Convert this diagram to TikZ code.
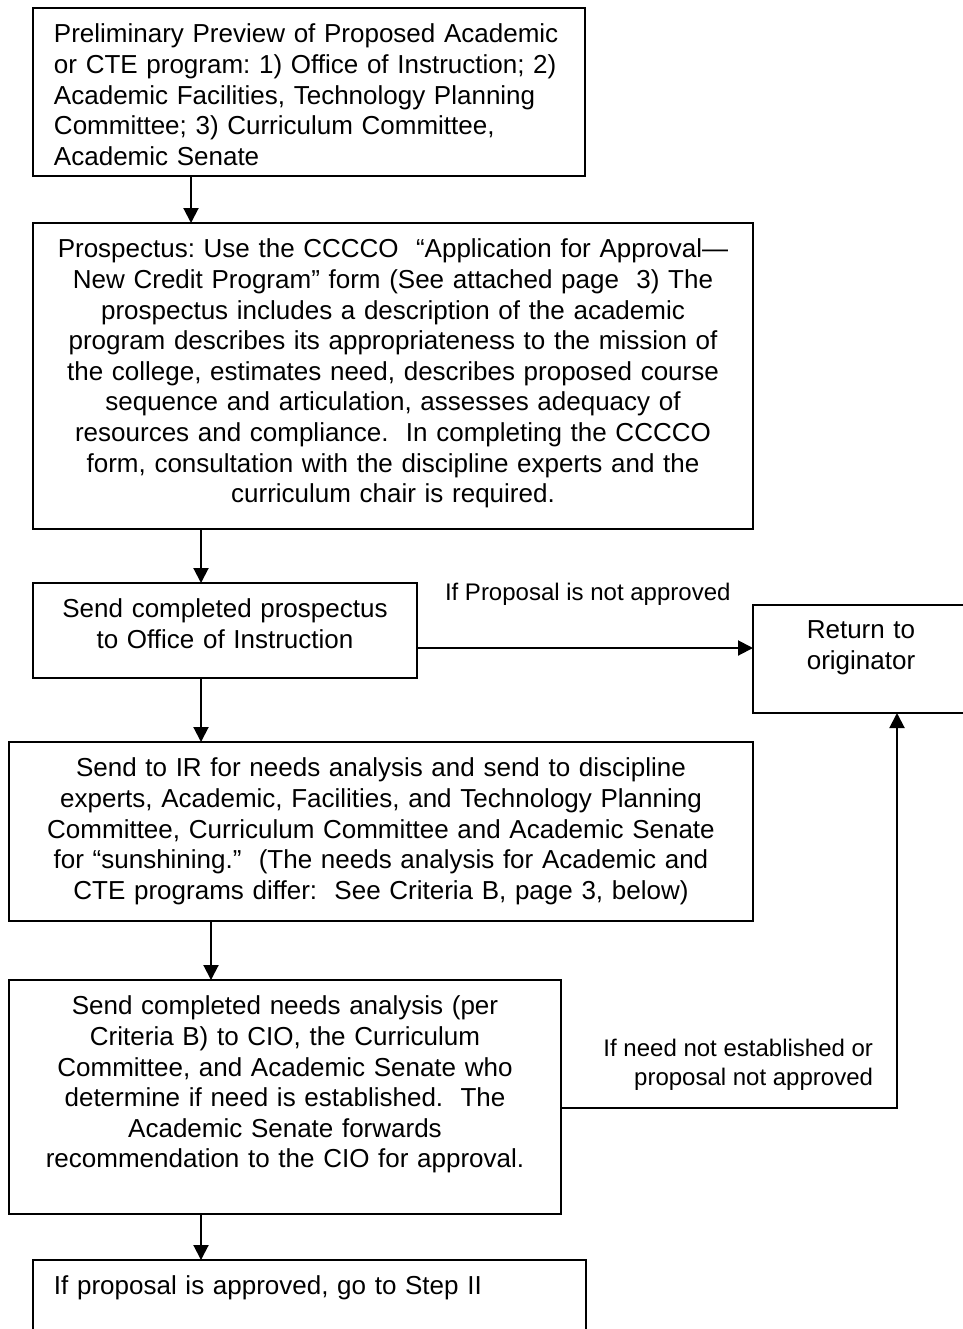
\documentclass[tikz,border=0pt]{standalone}
\usepackage{fontspec}
\setmainfont{Liberation Sans}
\usetikzlibrary{positioning,arrows.meta}

\begin{document}
\frenchspacing
\begin{tikzpicture}[x=0.5pt, y=-0.5pt]
        \tikzstyle{frame} = [rectangle, draw, line width=1pt, anchor=north west, inner sep=0pt, outer sep=0pt]
        \tikzstyle{txt} = [inner sep=0pt, outer sep=0pt, font=\fontsize{13}{15.3}\selectfont]
        \tikzstyle{lbl} = [inner sep=0pt, outer sep=0pt, font=\fontsize{12}{14.6}\selectfont]
        \tikzstyle{line} = [draw, line width=1pt, -{Triangle[width=7.5pt,length=7.5pt]}]
        \useasboundingbox (0,0) rectangle (963,1329);
        % boxes
        \node [frame, minimum width=276pt, minimum height=84pt] (prelim) at (33,8) {};
        \node [frame, minimum width=360pt, minimum height=153pt, below right=23.5pt and 0pt of prelim.south west] (prosp) {};
        \node [frame, minimum width=192pt, minimum height=47.5pt, below right=27pt and 0pt of prosp.south west] (sendoi) {};
        \node [frame, minimum width=108pt, minimum height=54pt, below right=11pt and 168pt of sendoi.north east] (ret) {};
        \node [frame, minimum width=372pt, minimum height=89.5pt, below right=32pt and -12pt of sendoi.south west] (needs) {};
        \node [frame, minimum width=276pt, minimum height=117pt, below right=29.5pt and 0pt of needs.south west] (senate) {};
        \node [frame, minimum width=276.5pt, minimum height=70pt, below right=23pt and 12pt of senate.south west] (stepii) {};
        % texts
        \node [txt, text width=265pt, align=left, below right=8pt and 10.5pt of prelim.north west] (prelimtxt)
            {Preliminary Preview of Proposed Academic\\
             or CTE program: 1) Office of Instruction; 2)\\
             Academic Facilities, Technology Planning\\
             Committee; 3) Curriculum Committee,\\
             Academic Senate};
        \node [txt, text width=360pt, align=center, below=8pt of prosp.north] (prosptxt)
            {Prospectus: Use the CCCCO~ “Application for Approval—\\
             New Credit Program” form (See attached page~ 3) The\\
             prospectus includes a description of the academic\\
             program describes its appropriateness to the mission of\\
             the college, estimates need, describes proposed course\\
             sequence and articulation, assesses adequacy of\\
             resources and compliance.~ In completing the CCCCO\\
             form, consultation with the discipline experts and the\\
             curriculum chair is required.};
        \node [txt, text width=192pt, align=center, below=8pt of sendoi.north] (sendoitxt)
            {Send completed prospectus\\ to Office of Instruction};
        \node [txt, text width=108pt, align=center, below=8pt of ret.north] (rettxt)
            {Return to\\ originator};
        \node [txt, text width=372pt, align=center, below=8pt of needs.north] (needstxt)
            {Send to IR for needs analysis and send to discipline\\
             experts, Academic, Facilities, and Technology Planning\\
             Committee, Curriculum Committee and Academic Senate\\
             for “sunshining.”~ (The needs analysis for Academic and\\
             CTE programs differ:~ See Criteria B, page 3, below)};
        \node [txt, text width=276pt, align=center, below=8pt of senate.north] (senatetxt)
            {Send completed needs analysis (per\\
             Criteria B) to CIO, the Curriculum\\
             Committee, and Academic Senate who\\
             determine if need is established.~ The\\
             Academic Senate forwards\\
             recommendation to the CIO for approval.};
        \node [txt, text width=265pt, align=left, below right=8pt and 10.5pt of stepii.north west] (stepiitxt)
            {If proposal is approved, go to Step II};
        % arrows
        \path [line] ([xshift=79pt]prelim.south west) coordinate (a1) -- (a1 |- prosp.north);
        \path [line] ([xshift=84pt]prosp.south west) coordinate (a2) -- (a2 |- sendoi.north);
        \path [line] ([xshift=84pt]sendoi.south west) coordinate (a3) -- (a3 |- needs.north);
        \path [line] ([xshift=101pt]needs.south west) coordinate (a4) -- (a4 |- senate.north);
        \path [line] ([xshift=96pt]senate.south west) coordinate (a5) -- (a5 |- stepii.north);
        \path [line] ([yshift=-32.5pt]sendoi.north east) coordinate (h1) -- node[lbl, pos=0, anchor=base west, xshift=14pt, yshift=24pt] (nolbl) {If Proposal is not approved} (h1 -| ret.west);
        \path [line] ([yshift=-64pt]senate.north east) coordinate (r1) -| node[lbl, pos=.5, anchor=north east, align=right, xshift=-12pt, yshift=34.5pt] (needlbl) {If need not established or\\ proposal not approved} ([xshift=72pt]ret.south west);
\end{tikzpicture}
\end{document}
